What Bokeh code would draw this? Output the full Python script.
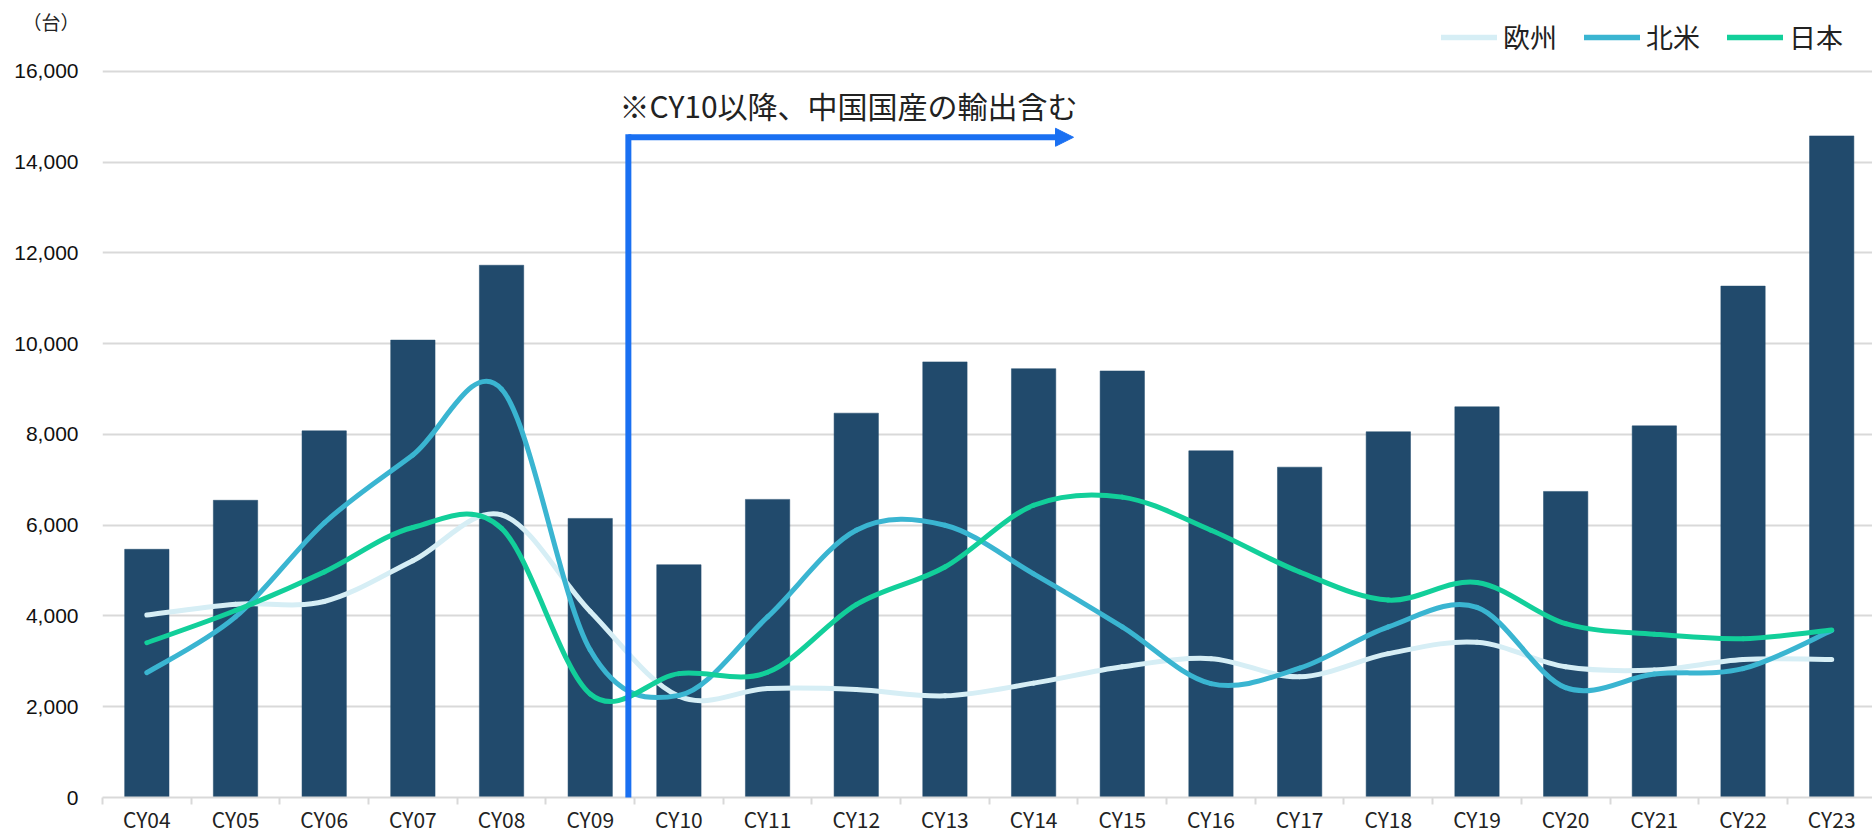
import numpy as np
from bokeh.plotting import figure
from bokeh.layouts import column
from bokeh.models import (Range1d, FixedTicker, Legend, LegendItem, Label, Arrow,
                          NormalHead, NumeralTickFormatter)
from bokeh.embed import file_html
from bokeh.resources import INLINE

# ---------------- data ----------------
categories = ["CY04", "CY05", "CY06", "CY07", "CY08", "CY09", "CY10", "CY11", "CY12", "CY13",
              "CY14", "CY15", "CY16", "CY17", "CY18", "CY19", "CY20", "CY21", "CY22", "CY23"]
totals = [5470, 6550, 8080, 10080, 11730, 6150, 5130, 6570, 8470, 9600,
          9450, 9400, 7640, 7280, 8060, 8610, 6745, 8190, 11270, 14580]
europe = [4020, 4260, 4320, 5220, 6230, 4100, 2230, 2400, 2380, 2240,
          2520, 2880, 3060, 2660, 3170, 3420, 2880, 2810, 3040, 3040]
north_america = [2750, 3980, 6050, 7550, 9000, 3250, 2250, 3980, 5890, 6000,
                 4930, 3760, 2510, 2850, 3760, 4190, 2420, 2720, 2840, 3680]
japan = [3410, 4120, 4970, 5950, 5930, 2280, 2730, 2760, 4250, 5080,
         6440, 6620, 5890, 4970, 4350, 4740, 3830, 3600, 3500, 3690]
series_names = ["欧州", "北米", "日本"]
unit_label = "（台）"
note_text = "※CY10以降、中国国産の輸出含む"
y_ticks = list(range(0, 16001, 2000))

# ---------------- styles ----------------
BAR = "#214a6c"
COLORS = ["#d6eef5", "#3ab5d1", "#12cf9a"]
ARROW = "#1a70f2"
GRID = "#d9d9d9"
JP_FONT = "Noto Sans CJK JP"
W = 1872
TOP_H = 58
MAIN_H = 836 - TOP_H
UNIT_POS = 21

n = len(categories)
xs = [i + 0.5 for i in range(n)]

# ---------------- header strip: unit label (as an axis label) + legend ----------------
top = figure(width=W, height=TOP_H, output_backend="svg", toolbar_location=None,
             x_range=Range1d(0, W - 102), y_range=Range1d(TOP_H, 0),
             x_axis_location=None, y_axis_location="left",
             min_border=0, min_border_left=102)
top.outline_line_color = None
top.grid.visible = False
top.yaxis.ticker = FixedTicker(ticks=[UNIT_POS])
top.yaxis.major_label_overrides = {UNIT_POS: unit_label}
top.yaxis.axis_line_color = None
top.yaxis.major_tick_line_color = None
top.yaxis.minor_tick_line_color = None
top.yaxis.major_tick_out = 0
top.yaxis.major_label_text_font = JP_FONT
top.yaxis.major_label_text_font_size = "19px"
top.yaxis.major_label_text_color = "#222222"
top.yaxis.major_label_standoff = 23

legend_items = []
for name, col in zip(series_names, COLORS):
    proxy = top.line(x=np.array([np.nan]), y=np.array([np.nan]), line_color=col,
                     line_width=5.5, line_cap="round")
    legend_items.append(LegendItem(label=name, renderers=[proxy]))
top.add_layout(Legend(items=legend_items, orientation="horizontal", location=(1339, 2),
                      glyph_width=56, glyph_height=26, label_standoff=6, spacing=27,
                      padding=0, margin=0, background_fill_alpha=0, border_line_alpha=0,
                      label_text_font=JP_FONT, label_text_font_size="27px",
                      label_text_color="#222222"), "center")

# ---------------- main chart ----------------
p = figure(width=W, height=MAIN_H, output_backend="svg", toolbar_location=None,
           x_range=Range1d(0, 19.96), y_range=Range1d(0, 16286),
           min_border_left=102, min_border_right=0, min_border_top=0, min_border_bottom=20)
p.outline_line_color = None
p.background_fill_color = "white"
p.border_fill_color = "white"

p.xgrid.grid_line_color = None
p.ygrid.ticker = FixedTicker(ticks=y_ticks)
p.ygrid.grid_line_color = GRID
p.ygrid.grid_line_width = 2

p.yaxis.ticker = FixedTicker(ticks=y_ticks)
p.yaxis.formatter = NumeralTickFormatter(format="0,0")
p.yaxis.axis_line_color = None
p.yaxis.major_tick_line_color = None
p.yaxis.minor_tick_line_color = None
p.yaxis.major_tick_out = 0
p.yaxis.major_label_text_font = "Liberation Sans"
p.yaxis.major_label_text_font_size = "21px"
p.yaxis.major_label_text_color = "#111111"
p.yaxis.major_label_standoff = 24

p.xaxis.ticker = FixedTicker(ticks=xs, minor_ticks=list(range(n + 1)))
p.xaxis.major_label_overrides = {x: c for x, c in zip(xs, categories)}
p.xaxis.axis_line_color = GRID
p.xaxis.axis_line_width = 2
p.xaxis.major_tick_line_color = None
p.xaxis.minor_tick_line_color = GRID
p.xaxis.minor_tick_line_width = 2
p.xaxis.minor_tick_out = 7
p.xaxis.minor_tick_in = 0
p.xaxis.major_tick_out = 0
p.xaxis.major_tick_in = 0
p.xaxis.major_label_text_font = JP_FONT
p.xaxis.major_label_text_font_size = "21px"
p.xaxis.major_label_text_color = "#222222"
p.xaxis.major_label_standoff = -1

# bars
p.vbar(x=xs, top=totals, width=0.5, fill_color=BAR, line_color=BAR, line_width=0.5)

# smoothed lines (Excel-style Catmull-Rom bezier through the data points)
def bezier_source(vals):
    x0, y0, x1, y1, cx0, cy0, cx1, cy1 = [], [], [], [], [], [], [], []
    m = len(vals)
    for i in range(m - 1):
        ip = max(i - 1, 0)
        inn = min(i + 2, m - 1)
        x0.append(xs[i]); y0.append(vals[i])
        x1.append(xs[i + 1]); y1.append(vals[i + 1])
        cx0.append(xs[i] + (xs[i + 1] - xs[ip]) / 6.0)
        cy0.append(vals[i] + (vals[i + 1] - vals[ip]) / 6.0)
        cx1.append(xs[i + 1] - (xs[inn] - xs[i]) / 6.0)
        cy1.append(vals[i + 1] - (vals[inn] - vals[i]) / 6.0)
    return dict(x0=x0, y0=y0, x1=x1, y1=y1, cx0=cx0, cy0=cy0, cx1=cx1, cy1=cy1)

for vals, col in zip([europe, north_america, japan], COLORS):
    d = bezier_source(vals)
    p.bezier(x0=d["x0"], y0=d["y0"], x1=d["x1"], y1=d["y1"],
             cx0=d["cx0"], cy0=d["cy0"], cx1=d["cx1"], cy1=d["cy1"],
             line_color=col, line_width=5, line_cap="round")

# note arrow
arrow_x = 5.93
arrow_y = 14550
p.add_layout(Arrow(end=None, x_start=arrow_x, y_start=0, x_end=arrow_x, y_end=arrow_y,
                   line_color=ARROW, line_width=6, line_cap="square"))
p.add_layout(Arrow(end=NormalHead(size=18, fill_color=ARROW, line_color=ARROW, line_width=1),
                   x_start=arrow_x, y_start=arrow_y, x_end=10.95, y_end=arrow_y,
                   line_color=ARROW, line_width=6, line_cap="butt"))
p.add_layout(Label(x=5.83, y=15257, text=note_text, text_font=JP_FONT,
                   text_font_size="30px", text_color="#222222", text_baseline="middle"))

layout = column(top, p, spacing=0)
open("out.html", "w").write(file_html(layout, INLINE))
